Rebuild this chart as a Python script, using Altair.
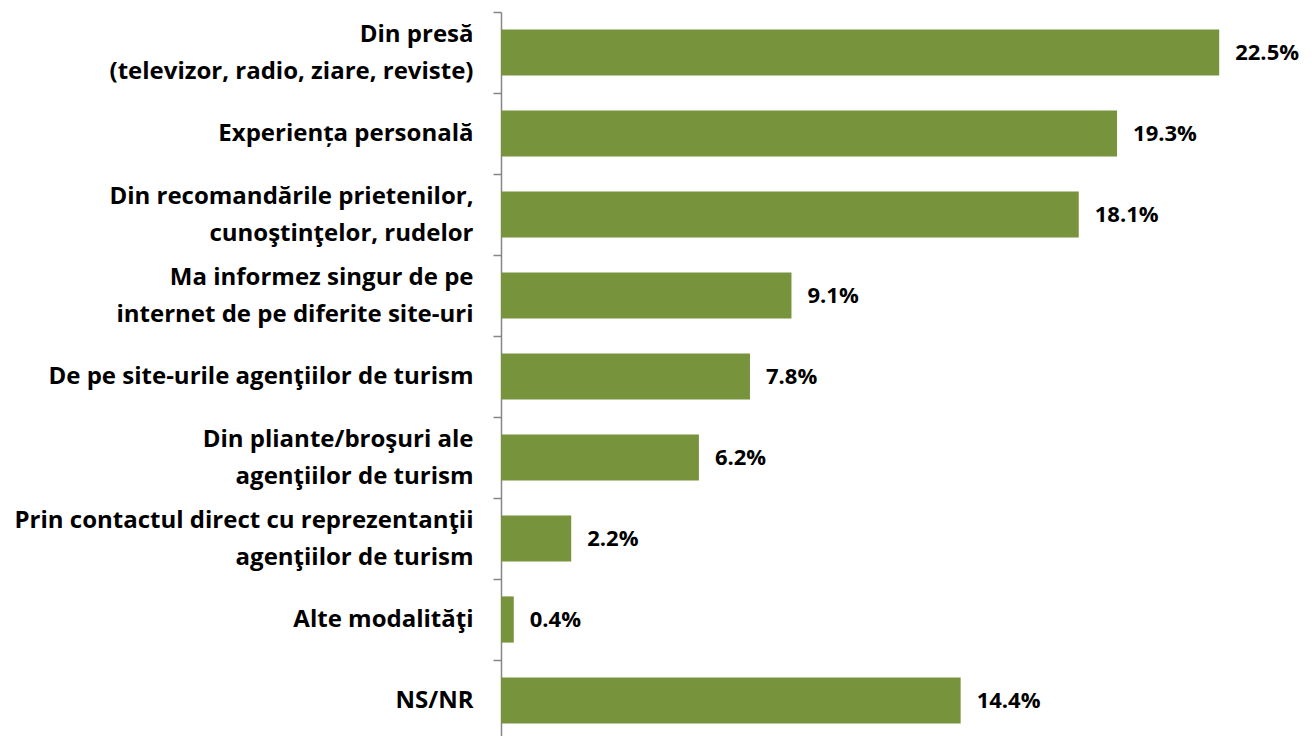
import altair as alt
import pandas as pd

categories = [
    "Din presă|(televizor, radio, ziare, reviste)",
    "Experiența personală",
    "Din recomandările prietenilor,|cunoştinţelor, rudelor",
    "Ma informez singur de pe|internet de pe diferite site-uri",
    "De pe site-urile agenţiilor de turism",
    "Din pliante/broşuri  ale|agenţiilor de turism",
    "Prin contactul direct cu reprezentanţii|agenţiilor de turism",
    "Alte modalităţi",
    "NS/NR",
]
values = [22.5, 19.3, 18.1, 9.1, 7.8, 6.2, 2.2, 0.4, 14.4]

df = pd.DataFrame({"cat": categories, "val": values})

FONT = "Open Sans"
GREEN = "#77933C"
GRAY = "#868686"
STEP = 81

base = alt.Chart(df).encode(
    y=alt.Y(
        "cat:N",
        sort=None,
        title=None,
        scale=alt.Scale(paddingInner=0.43, paddingOuter=0.215),
        axis=alt.Axis(
            labelExpr="split(datum.label, '|')",
            labelFont=FONT,
            labelFontSize=24,
            labelFontWeight="bold",
            labelColor="#000000",
            labelLineHeight=37,
            labelPadding=20,
            labelLimit=0,
            labelOverlap=False,
            tickOffset=-STEP / 2,
            labelOffset={
                "condition": {"test": "indexof(datum.label, '|') >= 0", "value": STEP / 2 - 18.5},
                "value": STEP / 2,
            },
            tickSize=8,
            tickColor=GRAY,
            tickWidth=1.5,
            domainColor=GRAY,
            domainWidth=1.5,
        ),
    ),
    x=alt.X("val:Q", axis=None, scale=alt.Scale(domain=[0, 25], nice=False)),
)

bars = base.mark_bar(color=GREEN)

labels = base.transform_calculate(
    lbl="format(datum.val, '.1f') + '%'"
).mark_text(
    align="left",
    baseline="middle",
    dx=16,
    font=FONT,
    fontSize=22,
    fontWeight="bold",
    color="#000000",
).encode(text="lbl:N")

chart = (
    alt.layer(bars, labels)
    .properties(
        width=798,
        height=STEP * 9,
        autosize=alt.AutoSizeParams(type="none"),
        padding={"left": 493, "top": 4, "right": 5, "bottom": 0},
    )
    .configure_view(stroke=None)
)

chart.save("out.html", embed_options={"renderer": "svg", "actions": False})
